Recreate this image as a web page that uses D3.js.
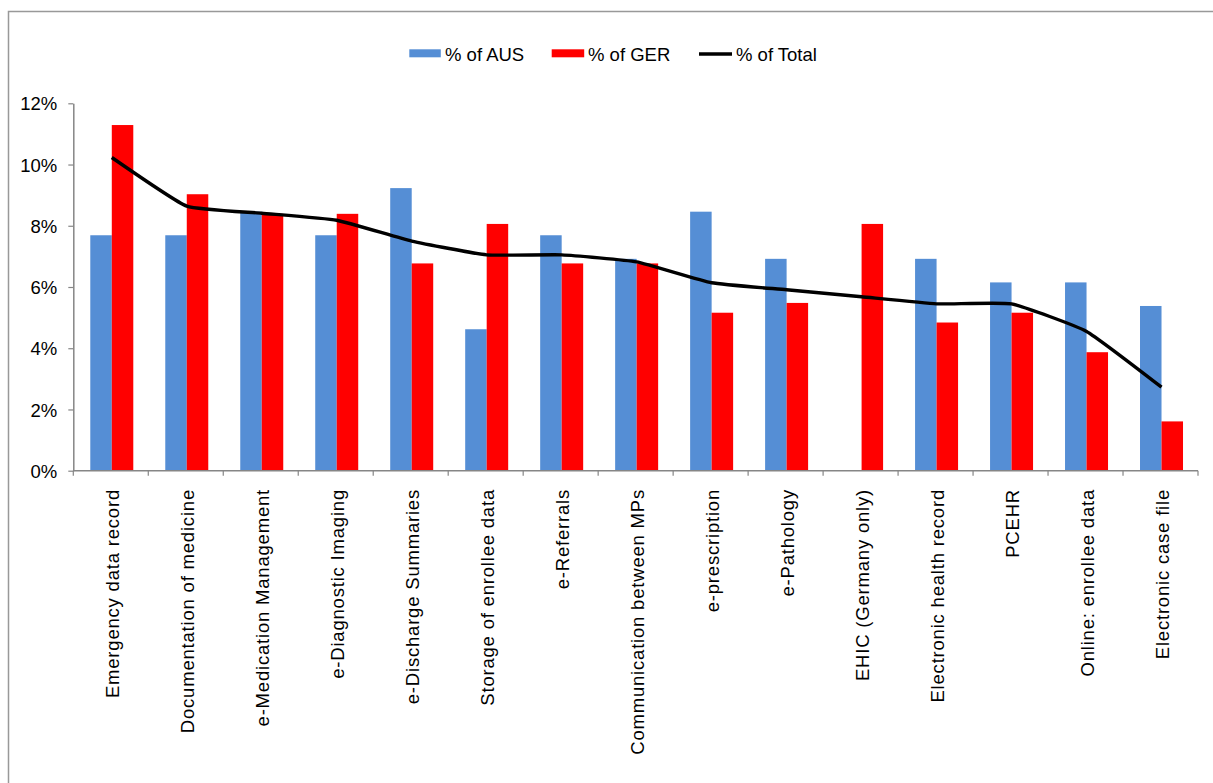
<!DOCTYPE html>
<html>
<head>
<meta charset="utf-8">
<script src="https://cdn.jsdelivr.net/npm/d3@7"></script>
<style>
  html, body { margin: 0; padding: 0; background: #fff; }
  svg { display: block; font-family: "Liberation Sans", Arial, sans-serif; }
</style>
</head>
<body>
<svg id="chart" width="1213" height="783"></svg>
<script>
const categories = [
  "Emergency data record", "Documentation of medicine", "e-Medication Management",
  "e-Diagnostic Imaging", "e-Discharge Summaries", "Storage of enrollee data",
  "e-Referrals", "Communication between MPs", "e-prescription", "e-Pathology",
  "EHIC (Germany only)", "Electronic health record", "PCEHR", "Online: enrollee data",
  "Electronic case file"
];
const ausValues   = [7.69, 7.69, 8.46, 7.69, 9.23, 4.62, 7.69, 6.92, 8.46, 6.92, 0.00, 6.92, 6.15, 6.15, 5.38];
const gerValues   = [11.29, 9.03, 8.39, 8.39, 6.77, 8.06, 6.77, 6.77, 5.16, 5.48, 8.06, 4.84, 5.16, 3.87, 1.61];
const totalValues = [10.23, 8.64, 8.41, 8.18, 7.50, 7.05, 7.05, 6.82, 6.14, 5.91, 5.68, 5.45, 5.45, 4.55, 2.73];
const yTicks = [0, 2, 4, 6, 8, 10, 12];
const seriesNames = ["% of AUS", "% of GER", "% of Total"];

(function () {
const svg = d3.select("#chart");
const axisColor = "#868686";
const blue = "#558ED5", red = "#FF0000";

// outer frame
svg.append("rect").attr("x", 8.5).attr("y", 11.5).attr("width", 1220).attr("height", 800)
  .attr("fill", "none").attr("stroke", "#999").attr("stroke-width", 1.5);

const pLeft = 73.3, pRight = 1198, pTop = 103.3, pBottom = 470.7;
const x = d3.scaleBand().domain(categories).range([pLeft, pRight]).paddingInner(0).paddingOuter(0);
const y = d3.scaleLinear().domain([0, 12]).range([pBottom, pTop]);
const barW = 21.5;
const band = x.bandwidth();

// Y axis
const yAxis = d3.axisLeft(y).tickValues(yTicks).tickFormat(d => d + "%").tickSize(5).tickSizeOuter(0);
const gy = svg.append("g").attr("transform", `translate(${pLeft},0)`).call(yAxis);
gy.select(".domain").attr("stroke", axisColor).attr("stroke-width", 1.5);
gy.selectAll(".tick line").attr("stroke", axisColor).attr("stroke-width", 1.2);
gy.selectAll(".tick text").attr("font-size", 18.5).attr("fill", "#000")
  .attr("font-family", "Liberation Sans, Arial, sans-serif").attr("x", -16).attr("dy", "0.36em");

// bars
const gBars = svg.append("g");
gBars.selectAll("rect.aus").data(categories).join("rect").attr("class", "aus")
  .attr("x", d => x(d) + band / 2 - barW + 1)
  .attr("width", barW)
  .attr("y", (d, i) => y(ausValues[i]))
  .attr("height", (d, i) => y(0) - y(ausValues[i]))
  .attr("fill", blue);
gBars.selectAll("rect.ger").data(categories).join("rect").attr("class", "ger")
  .attr("x", d => x(d) + band / 2 + 1)
  .attr("width", barW)
  .attr("y", (d, i) => y(gerValues[i]))
  .attr("height", (d, i) => y(0) - y(gerValues[i]))
  .attr("fill", red);

// X axis
const xAxisG = svg.append("g");
xAxisG.append("line").attr("x1", pLeft).attr("x2", pRight).attr("y1", pBottom).attr("y2", pBottom)
  .attr("stroke", axisColor).attr("stroke-width", 1.5);
const boundaries = categories.map(c => x(c)).concat([pRight]);
xAxisG.selectAll("line.tk").data(boundaries).join("line").attr("class", "tk")
  .attr("x1", d => d).attr("x2", d => d).attr("y1", pBottom).attr("y2", pBottom + 5)
  .attr("stroke", axisColor).attr("stroke-width", 1.2);
xAxisG.selectAll("text").data(categories).join("text")
  .attr("transform", d => `translate(${x(d) + band / 2 + 8},${489}) rotate(-90)`)
  .attr("text-anchor", "end")
  .attr("font-size", 18.5)
  .attr("letter-spacing", "0.8px")
  .attr("fill", "#000")
  .text(d => d);

// Total line
const line = d3.line()
  .x((d, i) => x(categories[i]) + band / 2 + 1)
  .y(d => y(d))
  .curve(d3.curveCardinal.tension(0.6));
svg.append("path").datum(totalValues).attr("d", line)
  .attr("fill", "none").attr("stroke", "#000").attr("stroke-width", 3.4)
  .attr("stroke-linejoin", "round");

// Legend
const lg = svg.append("g").attr("font-size", 18.5).attr("fill", "#000");
lg.append("rect").attr("x", 409.3).attr("y", 49.3).attr("width", 31.5).attr("height", 8).attr("fill", blue);
lg.append("text").attr("x", 445).attr("y", 60.5).text(seriesNames[0]);
lg.append("rect").attr("x", 551.7).attr("y", 49.3).attr("width", 32.5).attr("height", 8).attr("fill", red);
lg.append("text").attr("x", 588).attr("y", 60.5).text(seriesNames[1]);
lg.append("line").attr("x1", 699).attr("x2", 732).attr("y1", 54).attr("y2", 54)
  .attr("stroke", "#000").attr("stroke-width", 3.4);
lg.append("text").attr("x", 736).attr("y", 60.5).text(seriesNames[2]);
})();
</script>
</body>
</html>
